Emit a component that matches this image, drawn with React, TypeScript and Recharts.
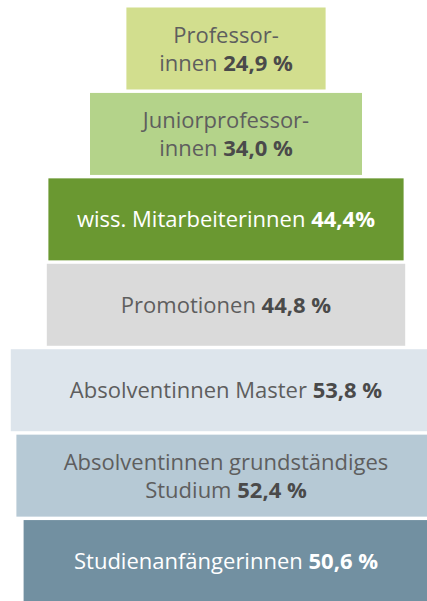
import React from "react";
import { BarChart, Bar, XAxis, YAxis } from "recharts";

const categories = [
  "Professorinnen",
  "Juniorprofessorinnen",
  "wiss. Mitarbeiterinnen",
  "Promotionen",
  "Absolventinnen Master",
  "Absolventinnen grundständiges Studium",
  "Studienanfängerinnen",
];
const values = [24.9, 34.0, 44.4, 44.8, 53.8, 52.4, 50.6];
const labelLines = [
  ["Professor-", "innen"],
  ["Juniorprofessor-", "innen"],
  ["wiss. Mitarbeiterinnen"],
  ["Promotionen"],
  ["Absolventinnen Master"],
  ["Absolventinnen grundständiges", "Studium"],
  ["Studienanfängerinnen"],
];
const percentSuffix = [" %", " %", "%", " %", " %", " %", " %"];

const fills = ["#d2de8e", "#b4d38a", "#6a9831", "#dadada", "#dde5ec", "#b6c9d5", "#7290a1"];
const textColors = ["#5e5e5e", "#5e5e5e", "#ffffff", "#5e5e5e", "#5e5e5e", "#5e5e5e", "#ffffff"];
const boldColors = ["#4a4a4a", "#4a4a4a", "#ffffff", "#4a4a4a", "#4a4a4a", "#4a4a4a", "#ffffff"];

const data = categories.map((name, i) => ({
  name,
  value: values[i],
  range: [-values[i] / 2, values[i] / 2],
  idx: i,
}));

const fmt = (v: number) => v.toFixed(1).replace(".", ",");

const PyramidShape = (props: any) => {
  const { x, y, width, height, payload } = props;
  const i = payload.idx;
  const lines = labelLines[i];
  const n = lines.length;
  const cx = x + width / 2;
  const cy = y + height / 2;
  const lh = 28;
  return (
    <g>
      <rect x={x} y={y} width={width} height={height} fill={fills[i]} />
      <text
        textAnchor="middle"
        fontFamily="'Open Sans', sans-serif"
        fontSize={22}
        fill={textColors[i]}
      >
        {lines.map((ln, k) => {
          const ty = cy + 8 + (k - (n - 1) / 2) * lh;
          const last = k === n - 1;
          return (
            <tspan key={k} x={cx} y={ty}>
              {ln}
              {last ? " " : ""}
              {last ? (
                <tspan fontWeight="bold" fill={boldColors[i]}>
                  {fmt(values[i]) + percentSuffix[i]}
                </tspan>
              ) : null}
            </tspan>
          );
        })}
      </text>
    </g>
  );
};

export default function App() {
  return (
    <div
      style={{
        position: "fixed",
        left: 0,
        top: 0,
        width: 427,
        height: 601,
        overflow: "hidden",
        background: "#ffffff",
      }}
    >
      <BarChart
        width={452}
        height={610}
        data={data}
        layout="vertical"
        margin={{ top: 6, right: 0, bottom: 6, left: 0 }}
        barCategoryGap={1.5}
      >
        <XAxis type="number" domain={[-28.25, 28.25]} hide />
        <YAxis type="category" dataKey="name" hide width={0} />
        <Bar dataKey="range" isAnimationActive={false} shape={<PyramidShape />} />
      </BarChart>
    </div>
  );
}
